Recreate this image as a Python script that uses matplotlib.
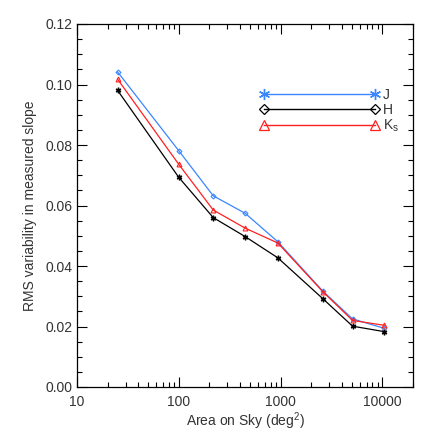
import matplotlib
matplotlib.use('Agg')
import matplotlib.pyplot as plt
from matplotlib.ticker import LogLocator, MultipleLocator, NullFormatter

# --- DATA ---
area = [25, 100, 218, 450, 940, 2600, 5100, 10450]
rms_j = [0.1042, 0.0781, 0.0632, 0.0574, 0.0480, 0.0317, 0.0225, 0.0194]
rms_h = [0.0981, 0.0693, 0.0560, 0.0497, 0.0427, 0.0292, 0.0201, 0.0183]
rms_ks = [0.1018, 0.0736, 0.0585, 0.0525, 0.0476, 0.0315, 0.0220, 0.0204]
labels = ['J', 'H', r'K$_\mathrm{s}$']

plt.rcParams['font.family'] = ['Liberation Sans', 'DejaVu Sans']
plt.rcParams['mathtext.fontset'] = 'custom'
plt.rcParams['mathtext.rm'] = 'Liberation Sans'

FS = 10
fig = plt.figure(figsize=(4.36, 4.36), dpi=100)
ax = fig.add_axes([77 / 436, 1 - 387 / 436, 336 / 436, 363 / 436])

blue = '#3a86ff'
red = '#ff2020'
txt = '#333333'

# curves with small markers
ax.plot(area, rms_j, color=blue, lw=0.9, marker='D', ms=2.5, mfc='none', mew=0.8)
ax.plot(area, rms_h, color='black', lw=0.9, marker=(6, 2, 0), ms=4, mew=1.0)
ax.plot(area, rms_ks, color=red, lw=0.9, marker='^', ms=3.5, mfc='none', mew=0.8)

# legend-only handles with larger symbols
h1, = ax.plot([], [], color=blue, lw=1.0, marker=(6, 2, 0), ms=8, mew=1.0)
h2, = ax.plot([], [], color='black', lw=1.0, marker='D', ms=5, mfc='none', mew=0.9)
h3, = ax.plot([], [], color=red, lw=1.0, marker='^', ms=7, mfc='none', mew=0.9)
leg = ax.legend([h1, h2, h3], labels, loc='upper left', bbox_to_anchor=(0.543, 0.825),
                frameon=False, numpoints=2, handlelength=8.6, handletextpad=0.3,
                labelspacing=0.08, fontsize=FS, borderaxespad=0, borderpad=0)
for t in leg.get_texts():
    t.set_color(txt)

ax.set_xscale('log')
ax.set_xlim(10, 20000)
ax.set_ylim(0, 0.12)

ax.xaxis.set_major_locator(LogLocator(base=10))
ax.xaxis.set_minor_locator(LogLocator(base=10, subs=range(2, 10)))
ax.xaxis.set_minor_formatter(NullFormatter())
ax.xaxis.set_major_formatter(plt.FuncFormatter(lambda v, p: f'{int(round(v))}'))
ax.yaxis.set_major_locator(MultipleLocator(0.02))
ax.yaxis.set_minor_locator(MultipleLocator(0.005))
ax.yaxis.set_major_formatter(plt.FuncFormatter(lambda v, p: f'{v:.2f}'))

ax.tick_params(which='both', direction='in', top=True, right=True, labelsize=FS, width=0.8,
               labelcolor=txt)
ax.tick_params(axis='x', pad=6)
ax.tick_params(axis='y', pad=3)
ax.tick_params(which='major', length=7)
ax.tick_params(which='minor', length=3.5)
for s in ax.spines.values():
    s.set_linewidth(0.9)

ax.set_xlabel(r'Area on Sky (deg$^\mathrm{2}$)', fontsize=FS, labelpad=1, color=txt)
ax.set_ylabel('RMS variability in measured slope', fontsize=FS, labelpad=6, color=txt)

fig.savefig('out.png', dpi=100)
